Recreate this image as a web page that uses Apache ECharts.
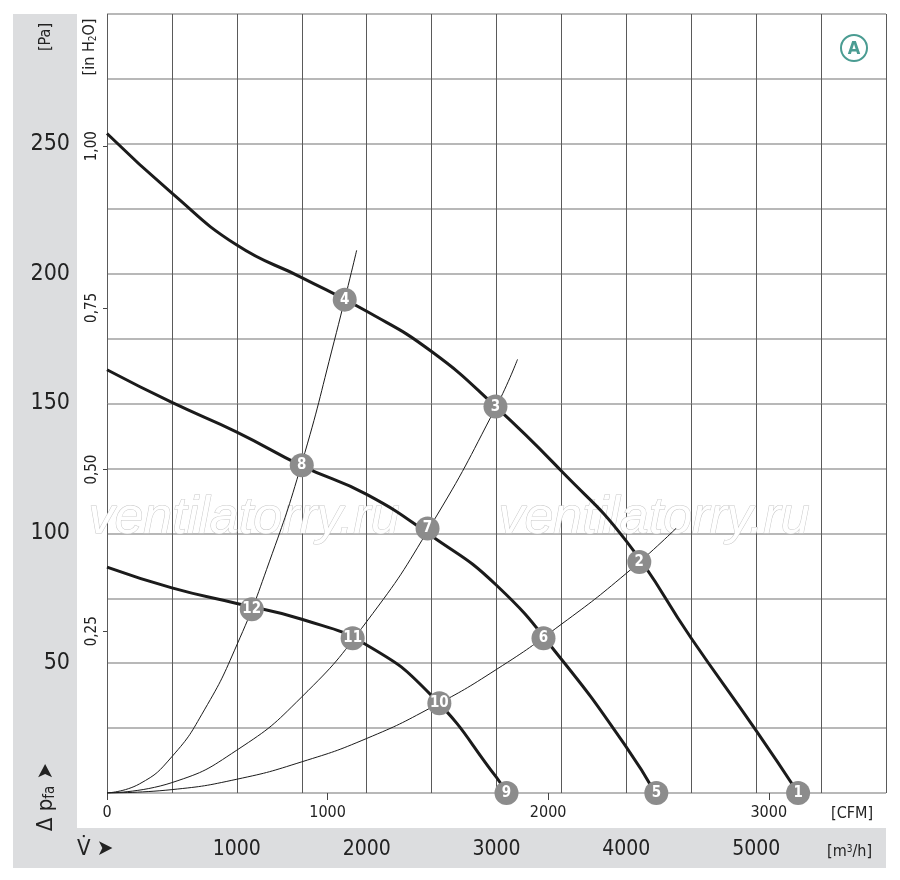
<!DOCTYPE html>
<html>
<head>
<meta charset="utf-8">
<script src="https://cdn.jsdelivr.net/npm/echarts@6/dist/echarts.min.js"></script>
<style>
html,body{margin:0;padding:0;background:#fff;}
#c{width:900px;height:880px;}
</style>
</head>
<body>
<div id="c"></div>
<script>
// ---- data (flow in m³/h, pressure in Pa) ----
const fan1 = [[0,254],[500,231],[1000,211],[1500,198.5],[2000,185.5],[2500,170],[3000,148.5],[3500,124],[4000,97],[4500,59.6],[5000,24],[5323,0]];
const fan2 = [[0,163],[500,150.4],[1000,139],[1500,126],[2000,115],[2500,99],[3000,80],[3500,51.5],[4000,17.7],[4223,0]];
const fan3 = [[0,87],[500,79],[1000,73],[1500,66.9],[2000,57],[2500,37.5],[3000,6],[3077,0]];
const sysA = [[0,0],[250,3.5],[500,14],[750,32],[1000,57],[1250,89],[1500,127],[1750,174],[1923,209]];
const sysB = [[0,0],[500,4],[1000,16.5],[1500,37],[2000,66],[2500,103.5],[3000,149],[3162,167]];
const sysC = [[0,0],[500,1.3],[1000,5.3],[1500,12],[2000,21],[2500,33],[3000,47.6],[3500,65],[4000,84.6],[4385,102]];

const markerNo   = ['1','2','3','4','5','6','7','8','9','10','11','12'];
const markerFlow = [5323,4100,2992,1831,4231,3362,2469,1500,3077,2560,1892,1115];
const markerPa   = [0,89,148.8,190,0,59.6,101.9,126.2,0,34.6,59.6,70.8];

const m3hTicks = [1000,2000,3000,4000,5000];
const cfmTicks = [0,1000,2000,3000];
const paTicks  = [50,100,150,200,250];
const inTicks  = [0.25,0.50,0.75,1.00];

const FLOW_MAX = 6000;       // m³/h
const PA_MAX = 300;          // Pa
const M3H_PER_CFM = 1.699;
const PA_PER_INH2O = 249.089;

const FONT = "'Liberation Sans Narrow','DejaVu Sans Condensed','Roboto Condensed',sans-serif";

const chart = echarts.init(document.getElementById('c'), null, {renderer:'canvas'});

const lineSeries = (d, w) => ({
  type:'line', data:d, xAxisIndex:0, yAxisIndex:0, smooth:0.5,
  symbol:'none', silent:true, lineStyle:{color:'#1b1b1b', width:w}, z:3
});

chart.setOption({
  animation:false,
  backgroundColor:'#fff',
  textStyle:{fontFamily:FONT},
  grid:{left:107, top:14, width:779, height:779, containLabel:false},
  xAxis:[
    { type:'value', min:0, max:FLOW_MAX, interval:500, position:'bottom',
      axisLine:{show:false, onZero:false}, axisTick:{show:false},
      splitLine:{show:true, lineStyle:{color:'#5a5a5a', width:1}},
      axisLabel:{margin:46, fontSize:21, color:'#222', fontFamily:FONT, customValues:m3hTicks, formatter:v=>String(v)}
    },
    { type:'value', min:0, max:FLOW_MAX/M3H_PER_CFM, position:'bottom',
      axisLine:{show:false, onZero:false},
      axisTick:{show:true, length:7, lineStyle:{color:'#444', width:1}, customValues:cfmTicks},
      splitLine:{show:false},
      axisLabel:{margin:12, fontSize:16, color:'#222', fontFamily:FONT, customValues:cfmTicks, formatter:v=>String(v)}
    }
  ],
  yAxis:[
    { type:'value', min:0, max:PA_MAX, interval:25, position:'left',
      axisLine:{show:false, onZero:false}, axisTick:{show:false},
      splitLine:{show:true, lineStyle:{color:'#a0a0a0', width:1.5}},
      axisLabel:{margin:37, fontSize:23, color:'#222', fontFamily:FONT, customValues:paTicks, formatter:v=>String(v)}
    },
    { type:'value', min:0, max:PA_MAX/PA_PER_INH2O, position:'left',
      axisLine:{show:false, onZero:false},
      axisTick:{show:true, length:4, lineStyle:{color:'#444', width:1}, customValues:inTicks},
      splitLine:{show:false},
      axisLabel:{margin:7, fontSize:15, color:'#222', rotate:90, fontFamily:FONT, customValues:inTicks,
        formatter:v=>v.toFixed(2).replace('.',',')}
    }
  ],
  series:[
    lineSeries(sysA,1), lineSeries(sysB,1), lineSeries(sysC,1),
    lineSeries(fan1,3), lineSeries(fan2,3), lineSeries(fan3,3),
    { type:'scatter', xAxisIndex:0, yAxisIndex:0, clip:false, silent:true, z:5,
      symbol:'circle', symbolSize:24,
      itemStyle:{color:'#8c8c8c', opacity:1},
      label:{show:true, position:'inside', color:'#fff', fontWeight:'bold', fontSize:15, fontFamily:FONT,
        formatter:p=>p.name},
      data:markerNo.map((n,i)=>({name:n, value:[markerFlow[i], markerPa[i]]}))
    }
  ],
  graphic:[
    {type:'rect', z:-10, silent:true, shape:{x:13,y:14,width:64,height:854}, style:{fill:'#dcdddf'}},
    {type:'rect', z:-10, silent:true, shape:{x:13,y:828,width:873,height:40}, style:{fill:'#dcdddf'}},
    // watermark
    {type:'text', z:1, silent:true, x:244, y:519, style:{text:'ventilatorry.ru', fontSize:52, fontStyle:'italic',
      fontFamily:"'Liberation Sans',Arial,sans-serif", fill:'#ffffff', stroke:'#c8c8c8', lineWidth:1, align:'center', verticalAlign:'middle'}},
    {type:'text', z:1, silent:true, x:654, y:519, style:{text:'ventilatorry.ru', fontSize:52, fontStyle:'italic',
      fontFamily:"'Liberation Sans',Arial,sans-serif", fill:'#ffffff', stroke:'#c8c8c8', lineWidth:1, align:'center', verticalAlign:'middle'}},
    // A badge
    {type:'circle', z:6, silent:true, shape:{cx:854, cy:48, r:13}, style:{fill:'#fff', stroke:'#4a9c92', lineWidth:2}},
    {type:'text', z:7, silent:true, x:854, y:49, style:{text:'A', fontSize:18, fontWeight:'bold', fontFamily:FONT, fill:'#4a9c92', align:'center', verticalAlign:'middle'}},
    // axis unit labels
    {type:'text', silent:true, x:46, y:37, rotation:Math.PI/2, style:{text:'[Pa]', fontSize:16, fontFamily:FONT, fill:'#222', align:'center', verticalAlign:'middle'}},
    {type:'text', silent:true, x:90, y:47, rotation:Math.PI/2, style:{
      text:'{a|[in H}{s|2}{a|O]}', align:'center', verticalAlign:'middle',
      rich:{a:{fontSize:16, fontFamily:FONT, fill:'#222'}, s:{fontSize:10, fontFamily:FONT, fill:'#222', verticalAlign:'bottom', padding:[6,0,0,0]}}}},
    {type:'text', silent:true, x:46, y:797, rotation:Math.PI/2, style:{
      text:'{a|Δ p}{s|fa}{a| ➤}', align:'center', verticalAlign:'middle',
      rich:{a:{fontSize:22, fontFamily:FONT, fill:'#222'}, s:{fontSize:15, fontFamily:FONT, fill:'#222', verticalAlign:'bottom', padding:[8,0,0,0]}}}},
    {type:'text', silent:true, x:77, y:849, style:{text:'V\u0307 ➤', fontSize:22, fontFamily:FONT, fill:'#222', align:'left', verticalAlign:'middle'}},
    {type:'text', silent:true, x:873, y:814, style:{text:'[CFM]', fontSize:16, fontFamily:FONT, fill:'#222', align:'right', verticalAlign:'middle'}},
    {type:'text', silent:true, x:872, y:852, style:{
      text:'{a|[m}{s|3}{a|/h]}', align:'right', verticalAlign:'middle',
      rich:{a:{fontSize:16, fontFamily:FONT, fill:'#222'}, s:{fontSize:10, fontFamily:FONT, fill:'#222', verticalAlign:'top', padding:[0,0,6,0]}}}}
  ]
});
</script>
</body>
</html>
